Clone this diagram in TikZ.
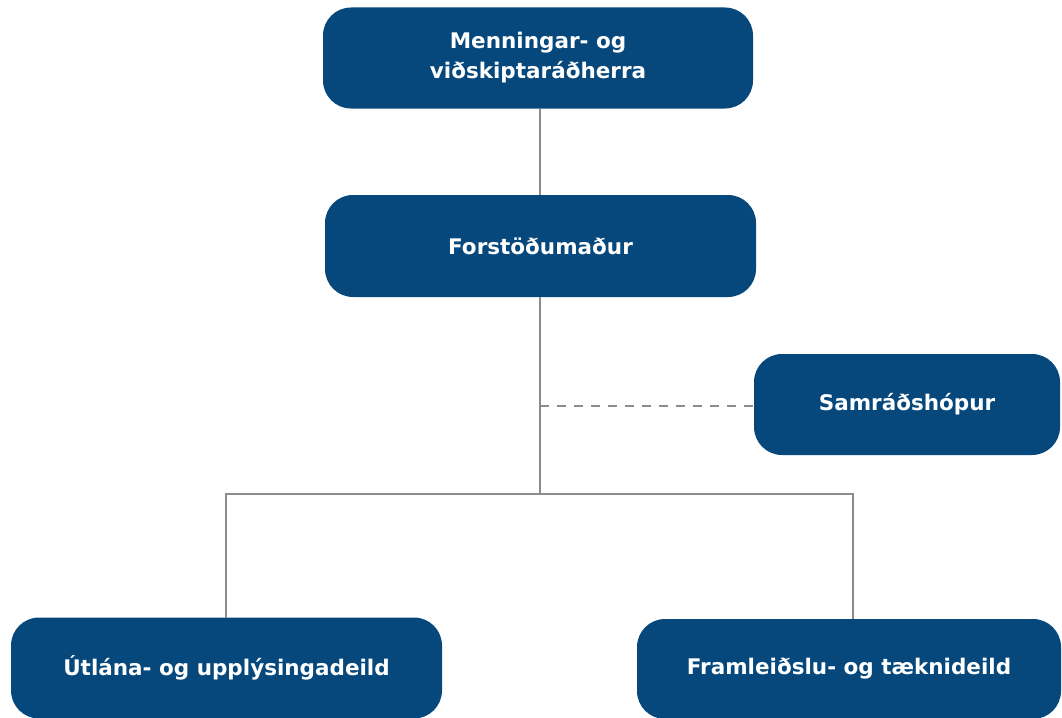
\documentclass[tikz,border=0pt]{standalone}
\usepackage{fontspec}
\setmainfont{DejaVu Sans}
\definecolor{boxblue}{HTML}{06487C}
\definecolor{linegray}{HTML}{8C8C8C}
\begin{document}
\begin{tikzpicture}[x=1pt,y=-1pt,
  orgbox/.style={fill=boxblue, rounded corners=28pt, text=white, font=\bfseries\fontsize{21.5}{30}\selectfont, align=center, inner sep=0pt},
  link/.style={draw=linegray, line width=2.5pt},
  dlink/.style={draw=linegray, line width=2.5pt, dash pattern=on 9pt off 8pt}]
\useasboundingbox (0,0) rectangle (1062,717);
\node[orgbox, minimum width=430pt, minimum height=101pt] (min) at (538,58) {Menningar- og\\viðskiptaráðherra};
\node[orgbox, minimum width=431pt, minimum height=102pt] (fors) at (540.5,246) {Forstöðumaður};
\node[orgbox, minimum width=306pt, minimum height=101pt] (sam) at (907,404.5) {Samráðshópur};
\node[orgbox, minimum width=431pt, minimum height=101pt] (utl) at (226.5,668) {Útlána- og upplýsingadeild};
\node[orgbox, minimum width=424pt, minimum height=100pt] (fram) at (849,669) {Framleiðslu- og tæknideild};
\coordinate (j) at (540,494);
\coordinate (d) at (540,406);
\draw[link] (min.south -| d) -- (fors.north -| d);
\draw[link] (fors.south -| d) -- (j);
\draw[link] (226,618) -- (226,494) -- (853,494) -- (853,619);
\draw[dlink] (d) -- (sam.west |- d);
\end{tikzpicture}
\end{document}
